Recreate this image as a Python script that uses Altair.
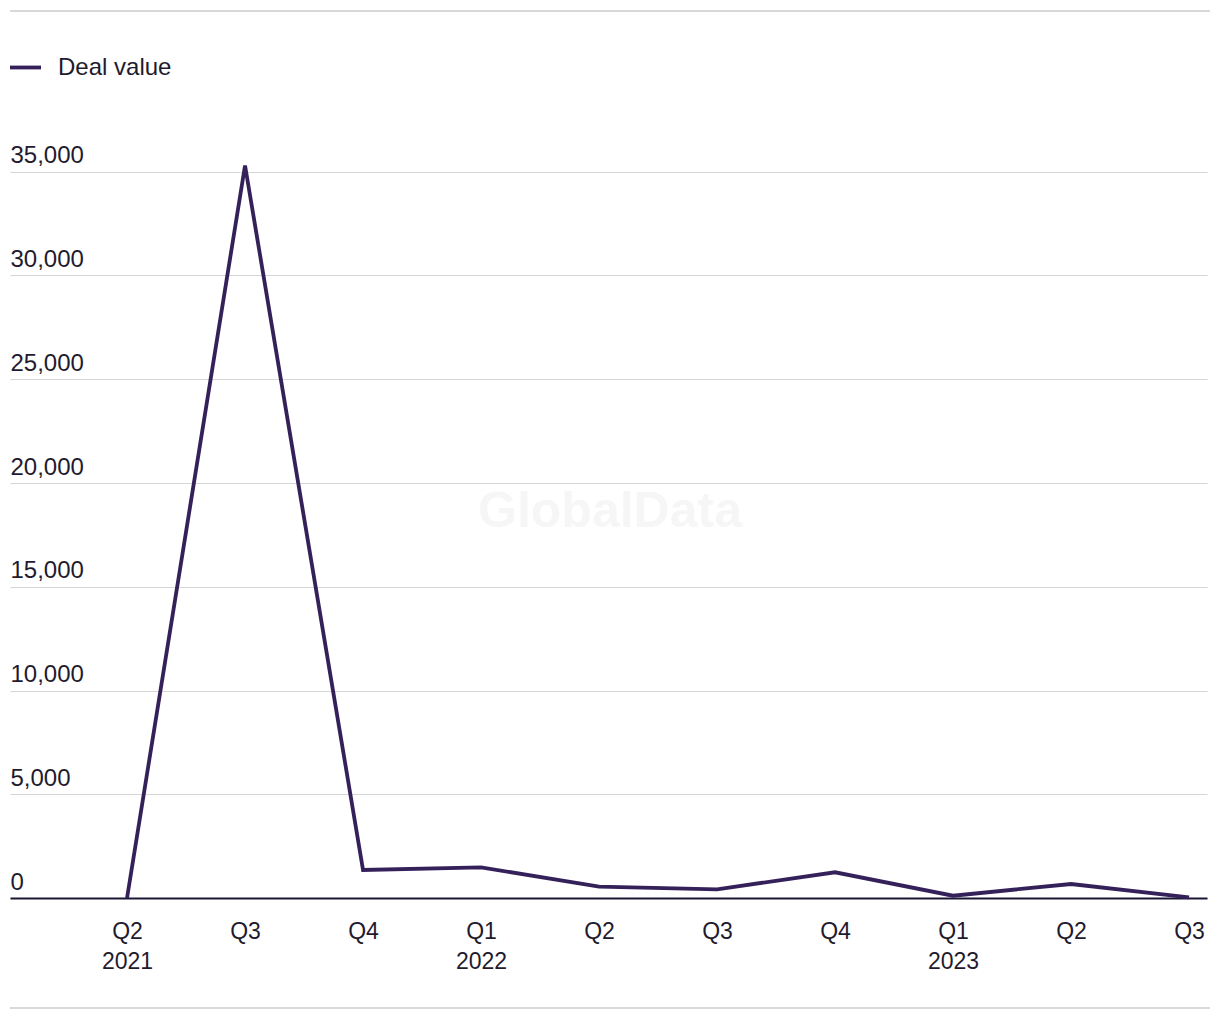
import altair as alt
import pandas as pd

quarters = ["Q2 2021", "Q3", "Q4", "Q1 2022", "Q2", "Q3 ", "Q4 ", "Q1 2023", "Q2 ", "Q3  "]
deal_value = [0, 35300, 1350, 1480, 545, 420, 1240, 110, 675, 30]
series_name = ["Deal value"] * len(quarters)
y_ticks = [0, 5000, 10000, 15000, 20000, 25000, 30000, 35000]

df = pd.DataFrame({"quarter": quarters, "value": deal_value, "series": series_name})

FONT = "Liberation Sans"
TEXT = "#1f1b2e"
LINE = "#35215a"

W, H = 1197, 747

x_enc = alt.X(
    "quarter:N", sort=None,
    scale=alt.Scale(type="point", padding=0.572, align=0.867),
    axis=alt.Axis(
        title=None, labelAngle=0, labelExpr="split(trim(datum.value), ' ')",
        labelFontSize=23, labelColor=TEXT, labelFont=FONT, labelLineHeight=30,
        labelPadding=22, ticks=False, domain=True, domainColor="#1a1633",
        domainWidth=2, grid=False, labelBaseline="top",
    ),
)
y_enc = alt.Y(
    "value:Q",
    scale=alt.Scale(domain=[0, 36000], nice=False),
    axis=alt.Axis(
        title=None, values=y_ticks, format=",.0f", ticks=False, domain=False,
        grid=True, gridColor="#d6d6d6", gridWidth=1.2,
        labelAlign="left", labelBaseline="alphabetic", labelPadding=0,
        labelOffset=-9, labelFontSize=24, labelColor=TEXT, labelFont=FONT,
    ),
)

line = alt.Chart(df).mark_line(strokeWidth=3.8, strokeJoin="miter").encode(
    x=x_enc, y=y_enc,
    color=alt.Color(
        "series:N", scale=alt.Scale(domain=["Deal value"], range=[LINE]),
        legend=alt.Legend(
            title=None, orient="none", legendX=-2, legendY=-101,
            symbolType="stroke", symbolStrokeWidth=3.8, symbolSize=961,
            labelFontSize=24, labelColor=TEXT, labelFont=FONT, labelOffset=15,
        ),
    ),
)

watermark = alt.Chart(pd.DataFrame({"t": ["GlobalData"]})).mark_text(
    font=FONT, fontSize=50, fontWeight="bold", color="#f6f6f6",
    align="center", baseline="middle",
).encode(text="t:N", x=alt.value(600), y=alt.value(361))

rules = alt.Chart(pd.DataFrame({"y": [-140, 857]})).mark_rule(
    color="#d9d9d9", strokeWidth=2
).encode(y=alt.Y("y:Q", scale=None), x=alt.value(0), x2=alt.value(1200))

chart = alt.layer(watermark, rules, line).properties(
    width=W, height=H,
    autosize=alt.AutoSizeParams(type="none"),
    padding={"left": 10, "top": 151, "right": 13, "bottom": 122},
).configure(background="white").configure_view(strokeWidth=0, stroke="transparent")

chart.save("out.html", embed_options={"renderer": "svg", "actions": False})
